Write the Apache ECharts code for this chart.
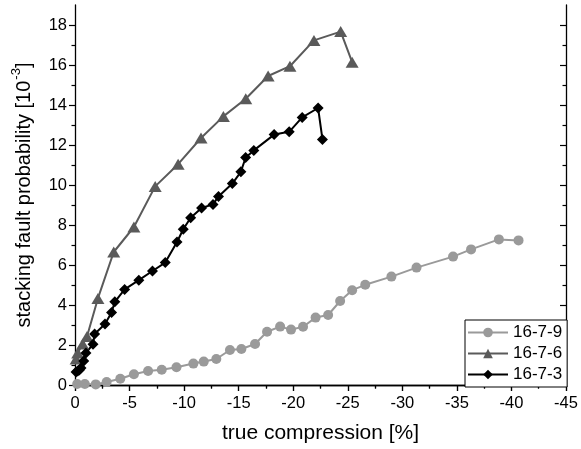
<!DOCTYPE html>
<html>
<head>
<meta charset="utf-8">
<script src="https://cdn.jsdelivr.net/npm/echarts@6/dist/echarts.min.js"></script>
<style>
  html, body { margin: 0; padding: 0; background: #fff; }
  #chart { width: 581px; height: 449px; }
</style>
</head>
<body>
<div id="chart"></div>
<script>
// Stacking fault probability versus true compression for three samples
const seriesNames = ['16-7-9', '16-7-6', '16-7-3'];

const x1679 = [-0.2, -0.9, -1.9, -2.9, -4.15, -5.4, -6.7, -7.95, -9.3, -10.85, -11.8, -12.95, -14.2, -15.25,
  -16.5, -17.6, -18.8, -19.8, -20.9, -22.05, -23.2, -24.3, -25.4, -26.6, -29.0, -31.3, -34.65, -36.3, -38.85, -40.65];
const y1679 = [0.05, 0.05, 0.03, 0.15, 0.31, 0.54, 0.7, 0.76, 0.89, 1.07, 1.17, 1.3, 1.75, 1.8,
  2.05, 2.66, 2.92, 2.77, 2.91, 3.37, 3.5, 4.2, 4.74, 5.01, 5.42, 5.87, 6.42, 6.78, 7.28, 7.23];

const x1676 = [-0.1, -0.25, -0.7, -1.1, -2.1, -3.55, -5.4, -7.35, -9.45, -11.55, -13.6, -15.65, -17.7, -19.7, -21.9, -24.35, -25.4];
const y1676 = [1.3, 1.6, 2.05, 2.42, 4.33, 6.65, 7.9, 9.93, 11.04, 12.35, 13.43, 14.31, 15.45, 15.94, 17.23, 17.67, 16.14];

const x1673 = [-0.1, -0.25, -0.4, -0.55, -0.8, -1.0, -1.65, -1.8, -2.75, -3.35, -3.65, -4.55, -5.85, -7.1, -8.27,
  -9.35, -9.92, -10.6, -11.6, -12.65, -13.15, -14.42, -15.2, -15.64, -16.39, -18.25, -19.63, -20.82, -22.28, -22.68];
const y1673 = [0.65, 0.7, 0.75, 0.85, 1.2, 1.6, 2.04, 2.55, 3.05, 3.63, 4.16, 4.78, 5.24, 5.7, 6.12,
  7.15, 7.79, 8.36, 8.85, 9.03, 9.43, 10.07, 10.66, 11.37, 11.73, 12.52, 12.66, 13.38, 13.85, 12.28];

// Axis ticks
const xMin = -45, xMax = 0, xStep = 5;
const yMin = 0, yMax = 19;
const yMajor = [0, 2, 4, 6, 8, 10, 12, 14, 16, 18];
const yMinor = [1, 3, 5, 7, 9, 11, 13, 15, 17];

const FONT = '"Liberation Sans", Arial, Helvetica, sans-serif';
const pair = (xs, ys) => xs.map((x, i) => [x, ys[i]]);

const axisLine = { show: true, lineStyle: { color: '#000', width: 1.3 } };

function xAxisDef(pos, main) {
  return {
    type: 'value', position: pos, inverse: true,
    min: xMin, max: xMax, interval: xStep,
    axisLine: axisLine,
    axisTick: { show: true, inside: !main, length: 6, lineStyle: { color: '#000', width: 1.2 } },
    minorTick: { show: true, splitNumber: 2, length: 3.5, lineStyle: { color: '#000', width: 1.2 } },
    splitLine: { show: false },
    axisLabel: main ? { show: true, fontSize: 16.5, color: '#000', fontFamily: FONT, margin: 10 } : { show: false },
    name: main ? 'true compression [%]' : '',
    nameLocation: 'middle', nameGap: 38,
    nameTextStyle: { fontSize: 21, color: '#000', fontFamily: FONT }
  };
}

function yAxisDef(pos, main, minor) {
  const ticks = minor ? yMinor : yMajor;
  return {
    type: 'value', position: pos,
    min: yMin, max: yMax, interval: 2,
    axisLine: minor ? { show: false } : axisLine,
    axisTick: { show: true, inside: pos === 'right', length: minor ? 3.5 : 6, customValues: ticks,
      lineStyle: { color: '#000', width: 1.2 } },
    splitLine: { show: false },
    axisLabel: (main && !minor) ? { show: true, fontSize: 16.5, color: '#000', fontFamily: FONT, margin: 8, customValues: yMajor }
      : { show: false },
    name: (main && !minor) ? '{a|stacking fault probability [10}{s|-3}{a|]}' : '',
    nameLocation: 'middle', nameGap: 41, nameRotate: 90,
    nameTextStyle: {
      color: '#000', fontFamily: FONT, fontSize: 20,
      rich: {
        a: { fontSize: 20, color: '#000', fontFamily: FONT, lineHeight: 24, verticalAlign: 'bottom' },
        s: { fontSize: 13, color: '#000', fontFamily: FONT, lineHeight: 24, verticalAlign: 'top', padding: [0, 0, 0, 1] }
      }
    }
  };
}

const chart = echarts.init(document.getElementById('chart'), null, { renderer: 'canvas' });

chart.setOption({
  animation: false,
  backgroundColor: '#fff',
  grid: { left: 75, right: 15, top: 5, bottom: 61, containLabel: false },
  xAxis: [xAxisDef('bottom', true), xAxisDef('top', false)],
  yAxis: [yAxisDef('left', true, false), yAxisDef('left', false, true),
          yAxisDef('right', false, false), yAxisDef('right', false, true)],
  legend: {
    orient: 'vertical', left: 465, top: 320,
    itemWidth: 40, itemHeight: 12, itemGap: 4,
    padding: [4, 5, 4, 2],
    borderColor: '#000', borderWidth: 1, backgroundColor: '#fff',
    textStyle: { fontSize: 17, color: '#000', fontFamily: FONT },
    data: seriesNames
  },
  series: [
    {
      name: seriesNames[0], type: 'line', data: pair(x1679, y1679),
      symbol: 'circle', symbolSize: 10,
      lineStyle: { color: '#9a9a9a', width: 2 }, itemStyle: { color: '#9a9a9a' }
    },
    {
      name: seriesNames[1], type: 'line', data: pair(x1676, y1676),
      symbol: 'triangle', symbolSize: [13, 11],
      lineStyle: { color: '#5a5a5a', width: 2 }, itemStyle: { color: '#5a5a5a' }
    },
    {
      name: seriesNames[2], type: 'line', data: pair(x1673, y1673),
      symbol: 'diamond', symbolSize: [11, 11],
      lineStyle: { color: '#000', width: 2 }, itemStyle: { color: '#000' }
    }
  ]
});
</script>
</body>
</html>
